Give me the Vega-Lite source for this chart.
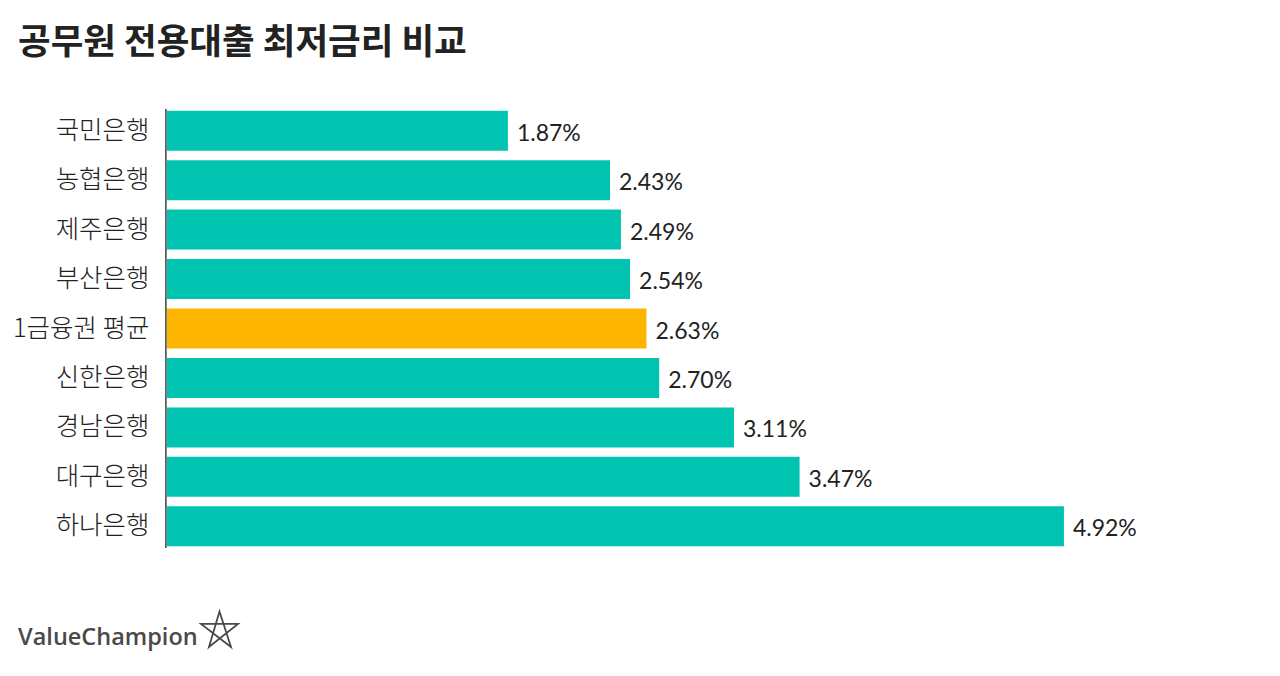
{"$schema":"https://vega.github.io/schema/vega-lite/v6.json","autosize":{"type":"none"},"width":1100,"height":445,"padding":{"left":167,"top":106,"right":13,"bottom":125},"background":"#ffffff","config":{"view":{"stroke":null},"font":"Noto Sans CJK KR"},
"datasets":{"bars":[{"bank":"국민은행","rate":1.87,"kind":"bank","label":"1.87%"},{"bank":"농협은행","rate":2.43,"kind":"bank","label":"2.43%"},{"bank":"제주은행","rate":2.49,"kind":"bank","label":"2.49%"},{"bank":"부산은행","rate":2.54,"kind":"bank","label":"2.54%"},{"bank":"1금융권 평균","rate":2.63,"kind":"avg","label":"2.63%"},{"bank":"신한은행","rate":2.70,"kind":"bank","label":"2.70%"},{"bank":"경남은행","rate":3.11,"kind":"bank","label":"3.11%"},{"bank":"대구은행","rate":3.47,"kind":"bank","label":"3.47%"},{"bank":"하나은행","rate":4.92,"kind":"bank","label":"4.92%"}]},
"resolve":{"scale":{"y":"independent"},"axis":{"y":"independent"}},
"layer":[
{"data":{"name":"bars"},"mark":{"type":"bar","height":40},"encoding":{"y":{"field":"bank","type":"nominal","sort":null,"scale":{"domain":["국민은행","농협은행","제주은행","부산은행","1금융권 평균","신한은행","경남은행","대구은행","하나은행"]},"axis":{"orient":"left","title":null,"domain":false,"ticks":false,"labelFont":"Noto Sans CJK KR","labelFontSize":25.5,"labelFontWeight":300,"labelColor":"#222222","labelPadding":18,"labelOffset":0,"labelLimit":200}},"x":{"field":"rate","type":"quantitative","scale":{"domain":[0,6.034],"nice":false},"axis":null},"color":{"field":"kind","type":"nominal","scale":{"domain":["bank","avg"],"range":["#00c4b0","#fdb500"]},"legend":null}}},
{"data":{"name":"bars"},"mark":{"type":"text","align":"left","dx":9,"dy":3,"font":"Lato","fontSize":23,"color":"#222222"},"encoding":{"y":{"field":"bank","type":"nominal","sort":null,"axis":null,"scale":{"domain":["국민은행","농협은행","제주은행","부산은행","1금융권 평균","신한은행","경남은행","대구은행","하나은행"]}},"x":{"field":"rate","type":"quantitative"},"text":{"field":"label"}}},
{"data":{"values":[{"x":-0.006,"top":109,"bottom":548}]},"mark":{"type":"rule","color":"#222222","strokeWidth":1.3},"encoding":{"x":{"field":"x","type":"quantitative"},"y":{"field":"top","type":"quantitative","axis":null,"scale":{"domain":[106,551],"range":[0,445]}},"y2":{"field":"bottom"}}},
{"data":{"values":[{"x":-0.817,"y":638,"t":"ValueChampion"}]},"mark":{"type":"text","align":"left","baseline":"middle","font":"Open Sans","fontSize":23.5,"fontWeight":600,"color":"#4a4a4a"},"encoding":{"x":{"field":"x","type":"quantitative"},"y":{"field":"y","type":"quantitative","axis":null,"scale":{"domain":[106,551],"range":[0,445]}},"text":{"field":"t"}}},
{"data":{"values":[{"x":0.288,"y":630}]},"mark":{"type":"point","shape":"M0,-1L0.62,0.92L-1,-0.33L1,-0.33L-0.57,0.92Z","size":1369,"filled":false,"stroke":"#4a4a4a","strokeWidth":1.8,"opacity":1},"encoding":{"x":{"field":"x","type":"quantitative"},"y":{"field":"y","type":"quantitative","axis":null,"scale":{"domain":[106,551],"range":[0,445]}}}}
],
"title":{"text":"공무원 전용대출 최저금리 비교","anchor":"start","frame":"group","font":"Noto Sans CJK KR","fontSize":35.5,"fontWeight":"bold","color":"#222222","offset":45,"dx":-149}}
